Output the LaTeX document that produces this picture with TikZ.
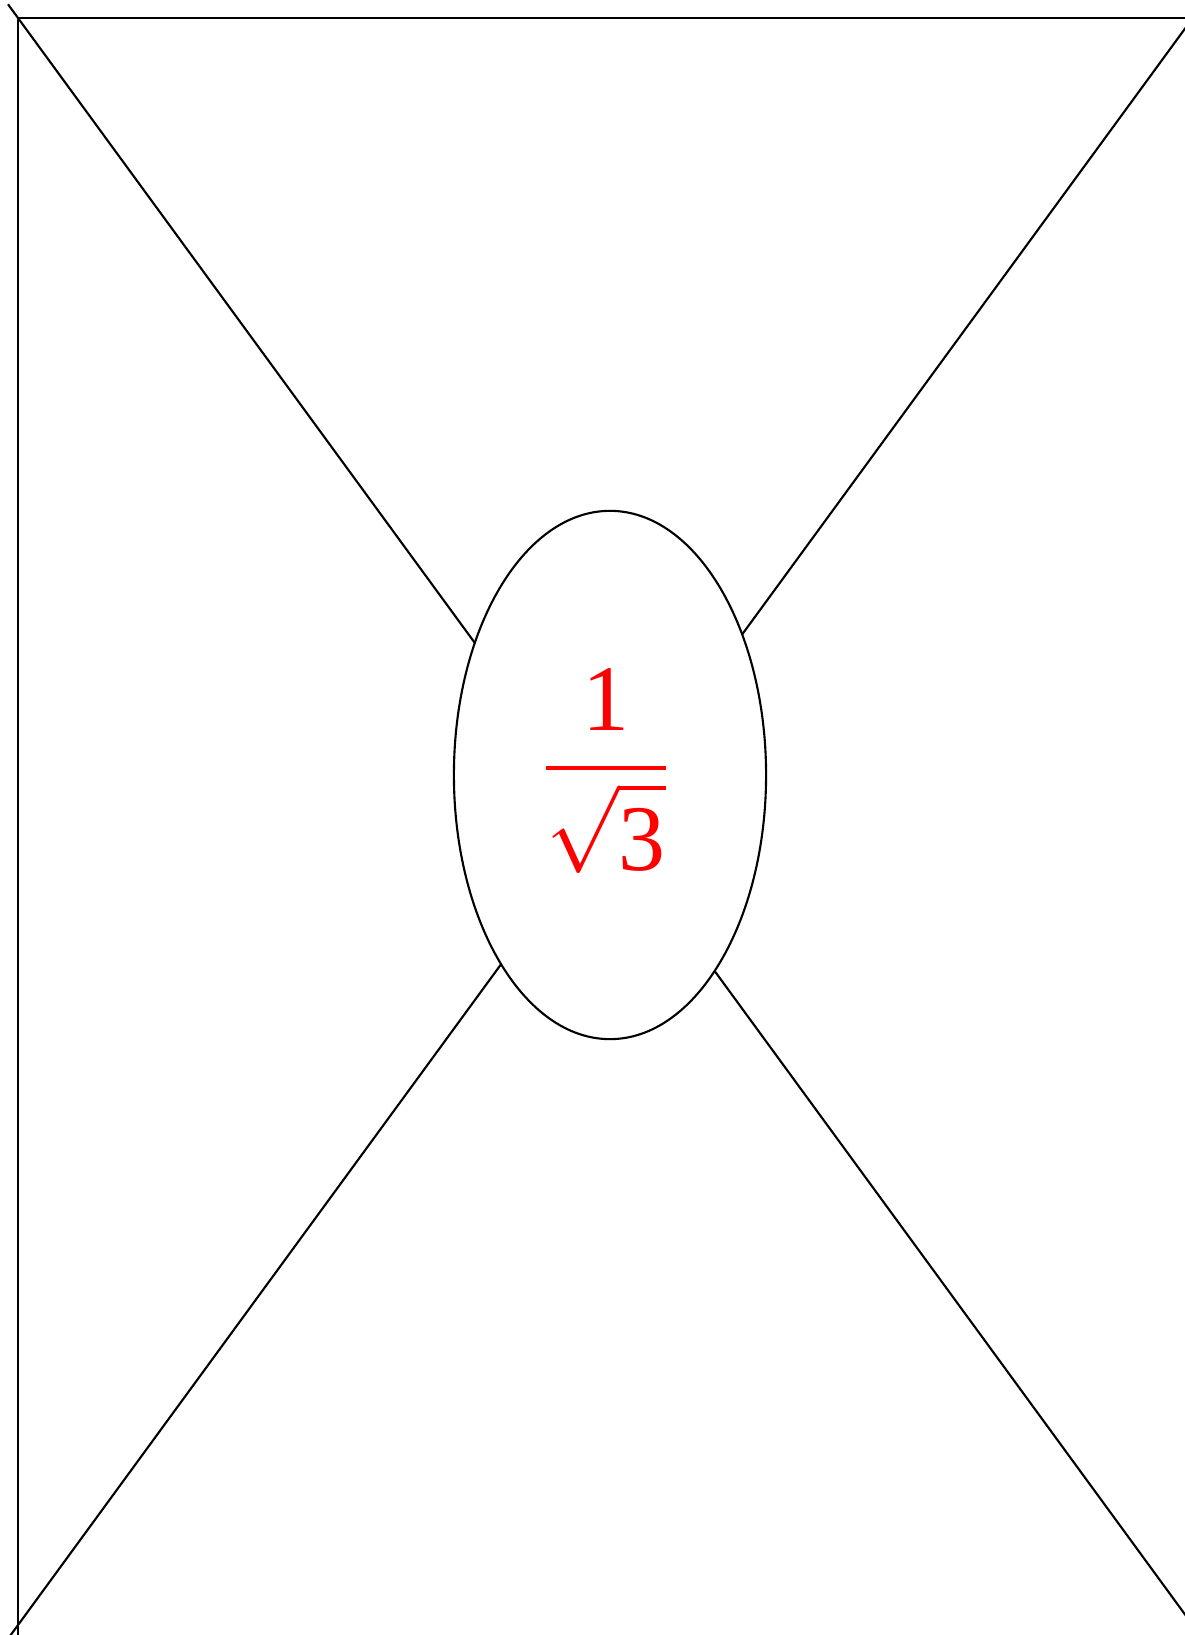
\documentclass[tikz,border=0pt]{standalone}
\usepackage{amsmath}
\usepackage{fontspec}
\setmainfont{Liberation Serif}
\usetikzlibrary{shapes.geometric}
\begin{document}
\begin{tikzpicture}[x=0.01cm, y=0.01cm,
	wire/.style={line width=0.6pt},
	valbox/.style={shape=ellipse, draw, fill=white, line width=0.6pt, inner sep=0pt, minimum width=3.12cm, minimum height=5.28cm},
	valtext/.style={anchor=center, inner sep=0pt, text=red, font=\fontsize{26.7}{31}\selectfont}]
	% Frame and corners:
	\useasboundingbox (0, 0) rectangle (1185, 1635);
	\clip (0, 0) rectangle (1185, 1635);
	\coordinate (tl) at (18, 1617);
	\coordinate (tr) at (1200, 1617);
	\coordinate (bl) at (18, -10);
	\coordinate (tlx) at (8, 1630.7);
	\coordinate (brx) at (1200, 0);
	\coordinate (trx) at (1200, 1626.9);
	\coordinate (blx) at (0, -14.7);
	% Paths, nodes and wires:
	\draw[wire] (tl) -- (tr);
	\draw[wire] (tl) -- (bl);
	\draw[wire] (tlx) -- (brx);
	\draw[wire] (trx) -- (blx);
	\node[valbox] (val) at (610, 860){} node[valtext] (valnum) at (606, 864){$\genfrac{}{}{1.2pt}{0}{\text{1}}{\sqrt{\rule{0pt}{21pt}\text{3}}}$};
\end{tikzpicture}
\end{document}
